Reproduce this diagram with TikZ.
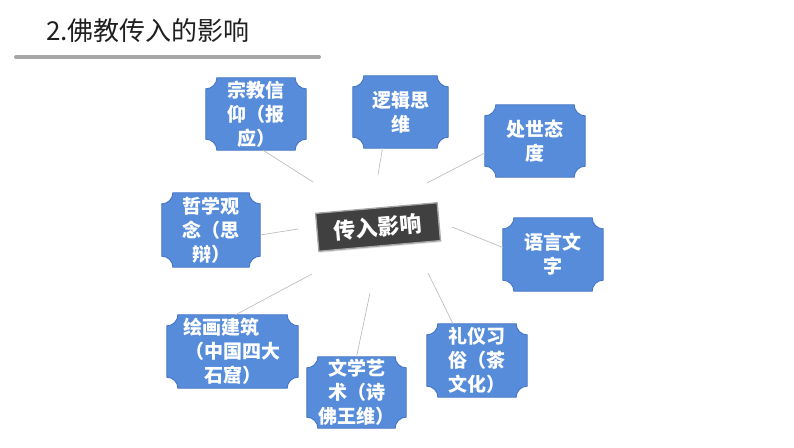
\documentclass[tikz,border=0pt]{standalone}
\usepackage{fontspec}
\setmainfont{Noto Sans CJK SC}
\usetikzlibrary{calc,backgrounds,shadows}
\definecolor{boxblue}{RGB}{86,140,218}
\definecolor{boxedge}{RGB}{68,114,196}
\definecolor{linegray}{RGB}{190,190,190}
\definecolor{rulegray}{RGB}{166,166,166}
\definecolor{centerfill}{RGB}{64,64,64}
\def\pr{11pt}
\begin{document}
\begin{tikzpicture}[x=1pt,y=1pt,
  boxtext/.style={text=white,font=\fontsize{19}{24}\selectfont\bfseries,align=center,inner sep=0pt,minimum width=100pt,minimum height=72pt},
  plaque/.style={fill=boxblue,draw=boxedge,line width=0.8pt},
  link/.style={draw=linegray,line width=0.7pt},
  centerbox/.style={fill=centerfill,draw=gray!70,line width=1.3pt,text=white,font=\fontsize{22}{26}\selectfont\bfseries,inner sep=0pt,minimum width=122pt,minimum height=38pt,drop shadow={opacity=0.25,shadow xshift=1pt,shadow yshift=-1.5pt}}]
\useasboundingbox (0,0) rectangle (794,-447);
% title
\node[anchor=west,inner sep=0pt,font=\fontsize{26}{30}\selectfont,text=black!88] (title) at (46,-31) {2.佛教传入的影响};
\coordinate (ruleA) at (16,-57);
\coordinate (ruleB) at (319,-57);
\draw[rulegray,line width=4pt,line cap=round] (ruleA) -- (ruleB);
% boxes
\node[boxtext] (b1) at (256,-114) {宗教信\\仰（报\\应）};
\node[boxtext,minimum width=95pt] (b2) at (400.5,-112) {逻辑思\\维};
\node[boxtext] (b3) at (535,-141) {处世态\\度};
\node[boxtext,minimum height=73pt] (b4) at (553,-254.5) {语言文\\字};
\node[boxtext,minimum width=98pt,minimum height=74pt] (b5) at (211,-230) {哲学观\\念（思\\辩）};
\node[boxtext,minimum width=131pt,minimum height=73pt] (b6) at (232.5,-351.5) {绘画建筑\kern22pt\\（中国四大\\石窟）};
\node[boxtext,minimum width=99pt,minimum height=71pt] (b7) at (356.5,-392.5) {文学艺\\术（诗\\佛王维）};
\node[boxtext,minimum height=73pt] (b8) at (477,-360.5) {礼仪习\\俗（茶\\文化）};
\begin{scope}[on background layer]
\foreach \bx in {b1,b2,b3,b4,b5,b6,b7,b8}
  \path[plaque] let \p1=(\bx.north west), \p2=(\bx.south east) in
   (\x1+\pr,\y1) -- (\x2-\pr,\y1) arc[start angle=180,end angle=270,radius=\pr]
   -- (\x2,\y2+\pr) arc[start angle=90,end angle=180,radius=\pr]
   -- (\x1+\pr,\y2) arc[start angle=0,end angle=90,radius=\pr]
   -- (\x1,\y1-\pr) arc[start angle=270,end angle=360,radius=\pr] -- cycle;
\end{scope}
% centre
\node[centerbox,rotate=5] (c) at (378,-227) {传入影响};
% free ends of connectors
\coordinate (e1) at (313,-182);
\coordinate (e2) at (378,-175);
\coordinate (e3) at (427,-183);
\coordinate (e4) at (452,-227);
\coordinate (e5) at (298,-229);
\coordinate (e6) at (312,-274);
\coordinate (e7) at (370,-293);
\coordinate (e8) at (428,-273);
\draw[link] ([xshift=7pt]b1.south) -- (e1);
\draw[link] ([xshift=-18pt]b2.south) -- (e2);
\draw[link] ([yshift=-12pt]b3.west) -- (e3);
\draw[link] ([yshift=7pt]b4.west) -- (e4);
\draw[link] ([yshift=-5pt]b5.east) -- (e5);
\draw[link] ([xshift=3pt]b6.north) -- (e6);
\draw[link] (b7.north) -- (e7);
\draw[link] ([xshift=-24pt]b8.north) -- (e8);
\end{tikzpicture}
\end{document}
